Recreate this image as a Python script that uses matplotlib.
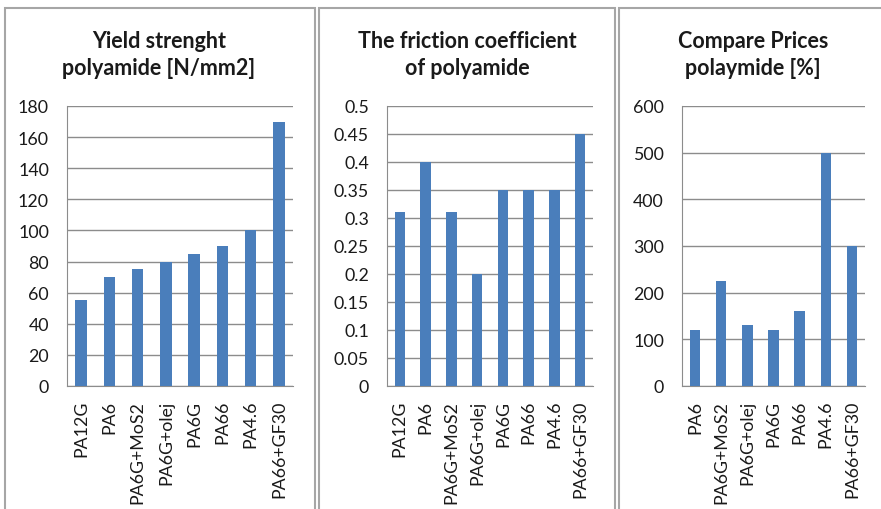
import matplotlib
matplotlib.use("Agg")
import matplotlib.pyplot as plt
from matplotlib.patches import Rectangle

plt.rcParams['font.family'] = ['Lato', 'DejaVu Sans']

# Données
labels_yield = ['PA12G', 'PA6', 'PA6G+MoS2', 'PA6G+olej', 'PA6G', 'PA66', 'PA4.6', 'PA66+GF30']
yield_values = [55, 70, 75, 80, 85, 90, 100, 170]

labels_friction = ['PA12G', 'PA6', 'PA6G+MoS2', 'PA6G+olej', 'PA6G', 'PA66', 'PA4.6', 'PA66+GF30']
friction_values = [0.31, 0.40, 0.31, 0.20, 0.35, 0.35, 0.35, 0.45]

labels_price = ['PA6', 'PA6G+MoS2', 'PA6G+olej', 'PA6G', 'PA66', 'PA4.6', 'PA66+GF30']
price_values = [120, 225, 130, 120, 160, 500, 300]

titles = ['Yield strenght\npolyamide [N/mm2]',
          'The friction coefficient\nof polyamide',
          'Compare Prices\npolaymide [%]']

W, H = 881, 510
fig = plt.figure(figsize=(W / 100, H / 100), dpi=100)

bar_color = '#4a7ebb'
grid_color = '#8c8c8c'
text_color = '#1a1a1a'

# Cadres des graphiques (pixels)
frames = [(5, 315), (319, 615), (619, 890)]
for x0, x1 in frames:
    fig.patches.append(Rectangle((x0 / W, -0.1), (x1 - x0) / W, 1 - 9 / H + 0.1,
                                 transform=fig.transFigure, fill=False,
                                 edgecolor='#a6a6a6', linewidth=1.5))

# Zones de tracé (pixels)
areas = [(67, 293), (387, 593), (682, 865)]
top, bottom = 107, 387
title_x = [159, 467, 753]

panels = [
    (labels_yield, yield_values, 180, 20),
    (labels_friction, friction_values, 0.5, 0.05),
    (labels_price, price_values, 600, 100),
]

for i, (labels, values, ymax, step) in enumerate(panels):
    x0, x1 = areas[i]
    ax = fig.add_axes([x0 / W, 1 - bottom / H, (x1 - x0) / W, (bottom - top) / H])
    pos = range(len(labels))
    ax.bar(pos, values, width=0.4, color=bar_color, zorder=3)
    ax.set_xlim(-0.5, len(labels) - 0.5)
    ax.set_ylim(0, ymax)
    n = int(round(ymax / step))
    ticks = [k * step for k in range(n + 1)]
    ax.set_yticks(ticks)
    ax.set_yticklabels(['{:g}'.format(round(t, 2)) for t in ticks], fontsize=12.8, color=text_color)
    ax.set_xticks(list(pos))
    ax.set_xticklabels(labels, rotation=90, fontsize=12.8, color=text_color)
    ax.tick_params(axis='y', length=0, pad=13)
    ax.tick_params(axis='x', length=0, pad=10)
    ax.grid(axis='y', color=grid_color, linewidth=1, zorder=0)
    for s in ['top', 'right']:
        ax.spines[s].set_visible(False)
    ax.spines['left'].set_color(grid_color)
    ax.spines['bottom'].set_color(grid_color)
    fig.text(title_x[i] / W, 1 - 55 / H, titles[i], ha='center', va='center',
             fontsize=15.5, fontweight='bold', color=text_color, linespacing=1.4)

fig.savefig('out.png', dpi=100)
